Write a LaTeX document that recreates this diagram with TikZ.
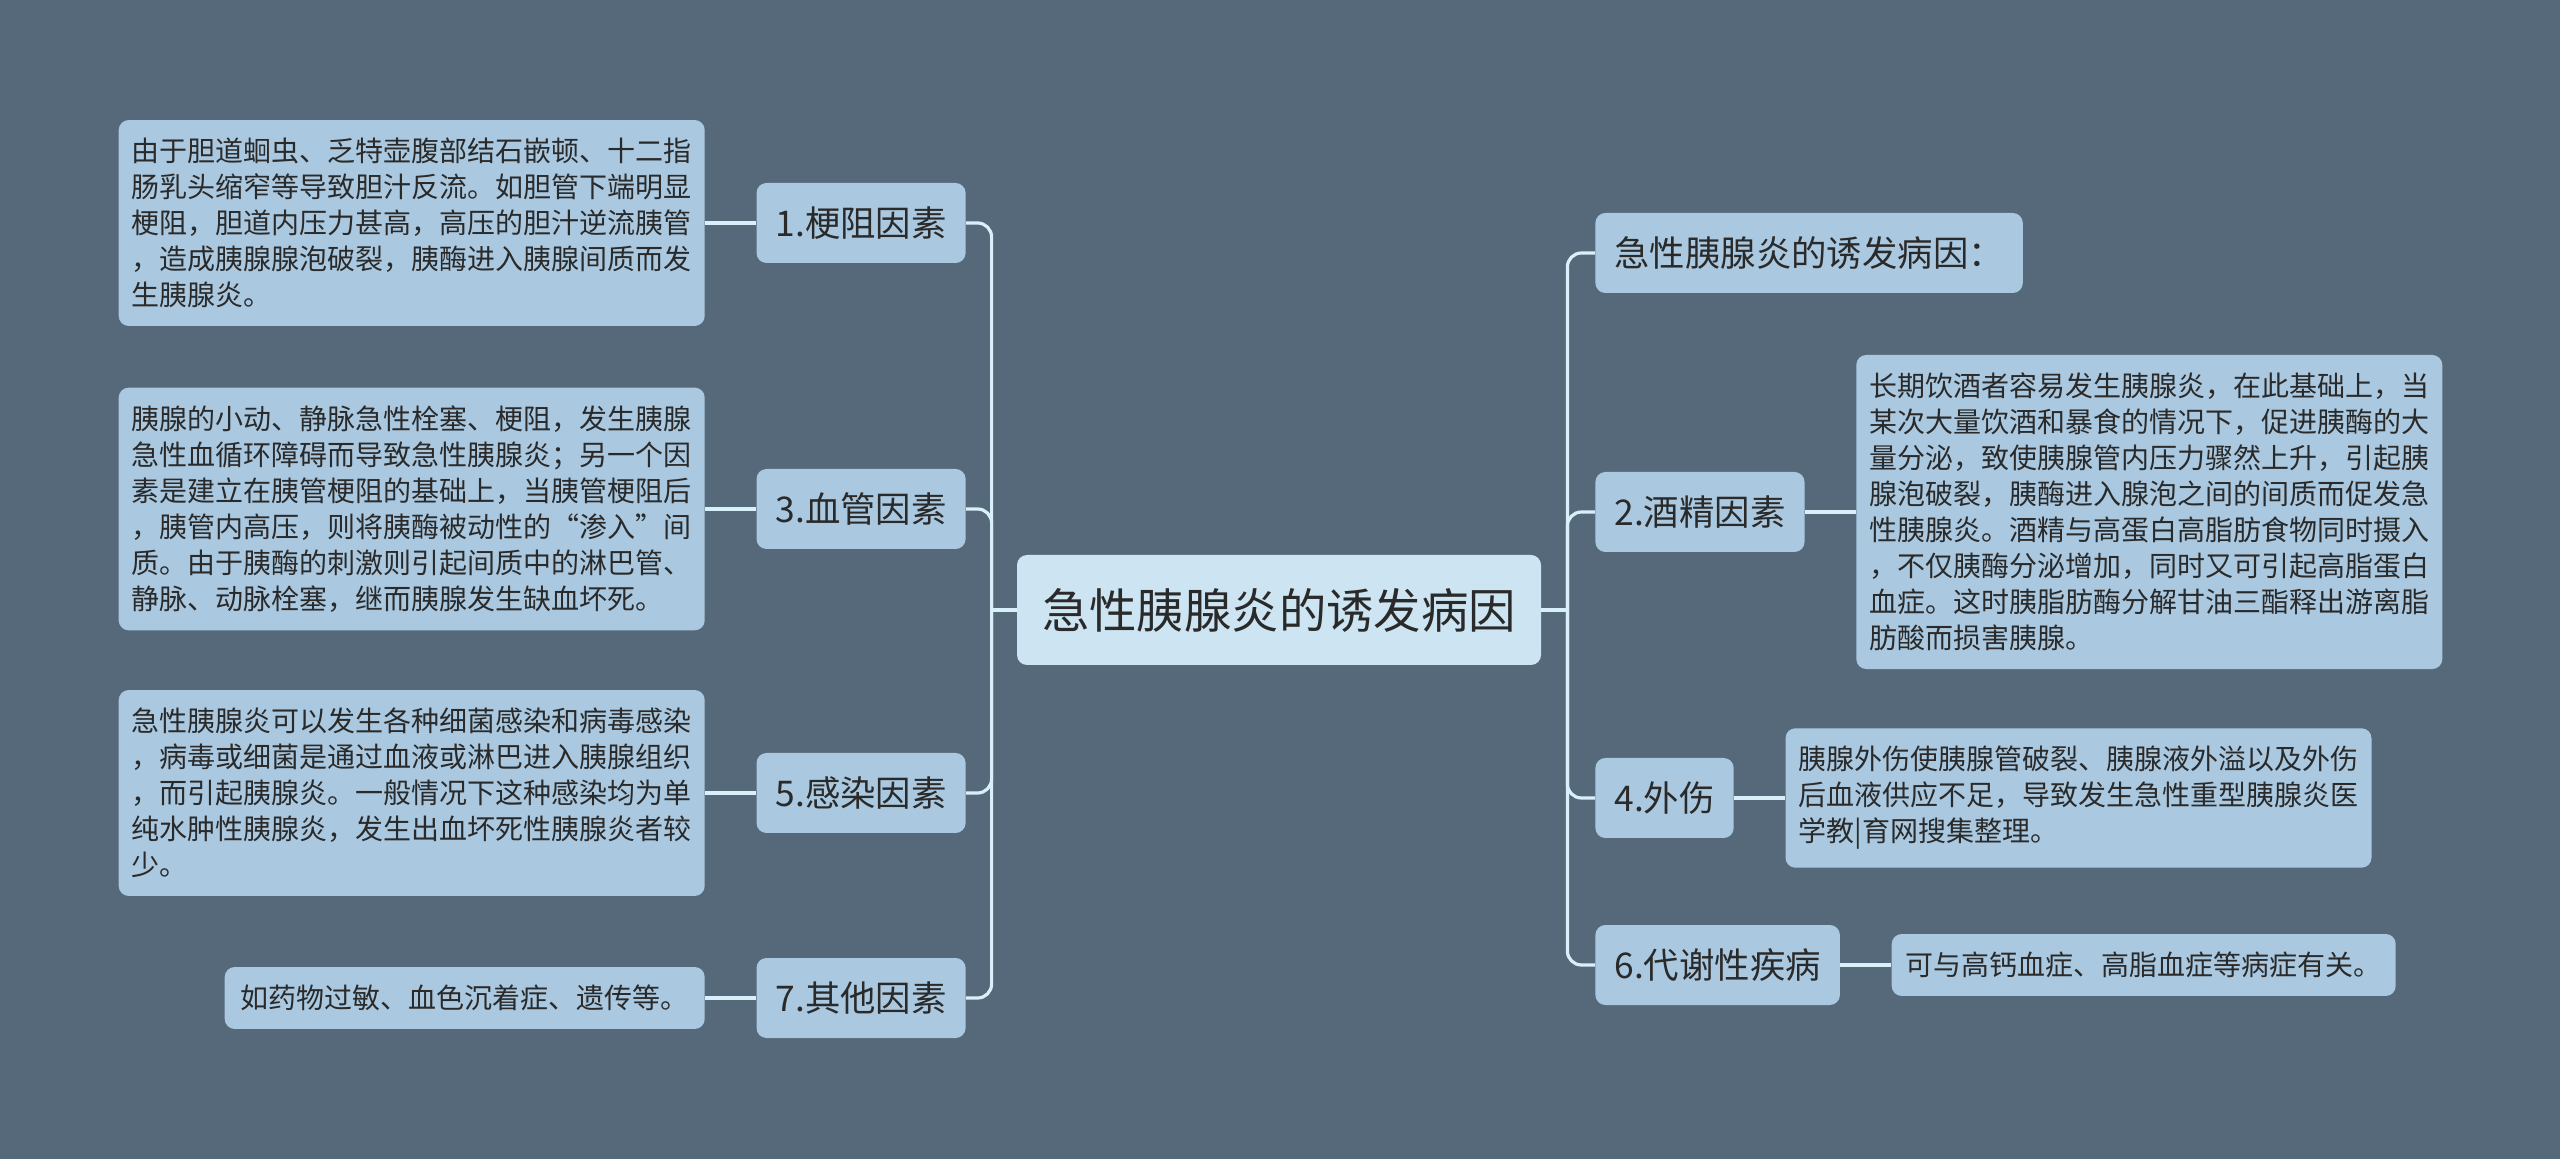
\documentclass[tikz,border=0pt]{standalone}
\usepackage{fontspec}
\setmainfont{Noto Sans CJK SC}
\usetikzlibrary{positioning}
\definecolor{slatebg}{HTML}{55697A}
\definecolor{nodeblue}{HTML}{AAC9E0}
\definecolor{rootblue}{HTML}{CDE5F2}
\definecolor{linkcyan}{HTML}{D8F0FA}
\definecolor{inkgrey}{HTML}{2A2A2A}

\begin{document}
\begin{tikzpicture}[x=0.5pt, y=-0.5pt,
        root/.style={fill=rootblue, rounded corners=5pt, text=inkgrey,
                     inner xsep=12.5pt, inner ysep=0pt, minimum height=55pt,
                     font=\fontsize{23.7}{28}\selectfont},
        topic/.style={fill=nodeblue, rounded corners=5pt, text=inkgrey,
                      inner xsep=9.5pt, inner ysep=0pt, minimum height=40pt,
                      font=\fontsize{17.7}{21}\selectfont},
        leaf/.style={fill=nodeblue, rounded corners=5pt, text=inkgrey,
                     inner xsep=6.5pt, inner ysep=9pt, align=left,
                     font=\fontsize{14}{18}\selectfont},
        para/.style={leaf, text width=280pt},
        link/.style={draw=linkcyan, line width=1.6pt}
    ]
        \fill[slatebg] (0,0) rectangle (2560,1159);

        \node[root] (c) at (1279,610) {急性胰腺炎的诱发病因};

        \node[topic, anchor=east] (b1) at (966,223) {1.梗阻因素};
        \node[topic, anchor=east] (b3) at (966,509) {3.血管因素};
        \node[topic, anchor=east] (b5) at (966,793) {5.感染因素};
        \node[topic, anchor=east] (b7) at (966,998) {7.其他因素};
        \node[topic, anchor=west] (b0) at (1595,253) {急性胰腺炎的诱发病因：};
        \node[topic, anchor=west] (b2) at (1595,512) {2.酒精因素};
        \node[topic, anchor=west] (b4) at (1595,798) {4.外伤};
        \node[topic, anchor=west] (b6) at (1595,965) {6.代谢性疾病};

        \node[para, left=25.5pt of b1] (l1) {由于胆道蛔虫、乏特壶腹部结石嵌顿、十二指\\肠乳头缩窄等导致胆汁反流。如胆管下端明显\\梗阻，胆道内压力甚高，高压的胆汁逆流胰管\\，造成胰腺腺泡破裂，胰酶进入胰腺间质而发\\生胰腺炎。};
        \node[para, left=25.5pt of b3] (l3) {胰腺的小动、静脉急性栓塞、梗阻，发生胰腺\\急性血循环障碍而导致急性胰腺炎；另一个因\\素是建立在胰管梗阻的基础上，当胰管梗阻后\\，胰管内高压，则将胰酶被动性的“渗入”间\\质。由于胰酶的刺激则引起间质中的淋巴管、\\静脉、动脉栓塞，继而胰腺发生缺血坏死。};
        \node[para, left=25.5pt of b5] (l5) {急性胰腺炎可以发生各种细菌感染和病毒感染\\，病毒或细菌是通过血液或淋巴进入胰腺组织\\，而引起胰腺炎。一般情况下这种感染均为单\\纯水肿性胰腺炎，发生出血坏死性胰腺炎者较\\少。};
        \node[leaf, left=25.5pt of b7, inner xsep=8pt] (l7) {如药物过敏、血色沉着症、遗传等。};
        \node[para, right=25.5pt of b2] (l2) {长期饮酒者容易发生胰腺炎，在此基础上，当\\某次大量饮酒和暴食的情况下，促进胰酶的大\\量分泌，致使胰腺管内压力骤然上升，引起胰\\腺泡破裂，胰酶进入腺泡之间的间质而促发急\\性胰腺炎。酒精与高蛋白高脂肪食物同时摄入\\，不仅胰酶分泌增加，同时又可引起高脂蛋白\\血症。这时胰脂肪酶分解甘油三酯释出游离脂\\肪酸而损害胰腺。};
        \node[para, right=25.5pt of b4] (l4) {胰腺外伤使胰腺管破裂、胰腺液外溢以及外伤\\后血液供应不足，导致发生急性重型胰腺炎医\\学教|育网搜集整理。};
        \node[leaf, right=25.5pt of b6, inner xsep=7pt] (l6) {可与高钙血症、高脂血症等病症有关。};

        \coordinate[left=12.5pt of c.west] (lt);
        \coordinate[right=13pt of c.east] (rt);
        \draw[link] (c.west) -- (lt);
        \draw[link] (c.east) -- (rt);
        \foreach \b in {b1,b3,b5,b7}
            \draw[link, rounded corners=7pt] (lt) |- (\b.east);
        \foreach \b in {b0,b2,b4,b6}
            \draw[link, rounded corners=7pt] (rt) |- (\b.west);
        \foreach \b/\l in {b1/l1,b3/l3,b5/l5,b7/l7}
            \draw[link] (\b.west) -- (\l.east);
        \foreach \b/\l in {b2/l2,b4/l4,b6/l6}
            \draw[link] (\b.east) -- (\l.west);
    \end{tikzpicture}
\end{document}
